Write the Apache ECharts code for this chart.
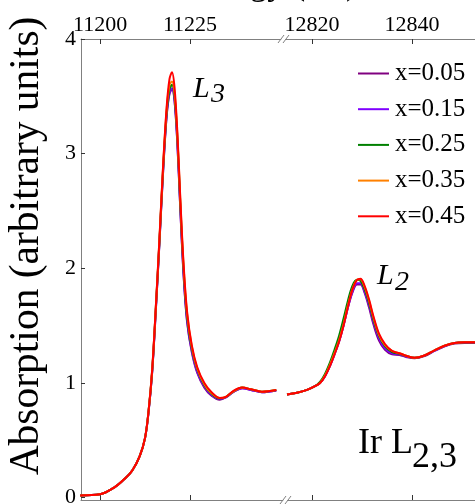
<!DOCTYPE html>
<html>
<head>
<meta charset="utf-8">
<script src="https://cdn.jsdelivr.net/npm/echarts@6/dist/echarts.min.js"></script>
<style>
html,body{margin:0;padding:0;background:#fff;}
#chart{width:475px;height:504px;}
</style>
</head>
<body>
<div id="chart"></div>
<script>
// ---- data ----
const seriesNames = ['x=0.05', 'x=0.15', 'x=0.25', 'x=0.35', 'x=0.45'];
const seriesColors = ['#800080', '#7f00ff', '#008000', '#ff8000', '#ff0000'];

// L3 edge energies (eV)
const energyL3 = [11194.5, 11200, 11204, 11207, 11209, 11211, 11212.5, 11213.5, 11214.5, 11215.5,
  11216.5, 11217.5, 11218.5, 11219.3, 11220, 11220.7, 11221.5, 11222.3, 11223.2, 11224.2,
  11225.5, 11227, 11229, 11231, 11233.3, 11235, 11237, 11239.5, 11242, 11245, 11249];
const l3_x005 = [0.02, 0.03, 0.09, 0.17, 0.24, 0.36, 0.52, 0.75, 1.10, 1.63,
  2.21, 2.82, 3.32, 3.52, 3.56, 3.46, 3.08, 2.52, 1.95, 1.53,
  1.27, 1.09, 0.96, 0.89, 0.855, 0.875, 0.92, 0.955, 0.94, 0.92, 0.935];
const l3_x015 = [0.02, 0.03, 0.09, 0.17, 0.24, 0.36, 0.52, 0.75, 1.10, 1.63,
  2.22, 2.83, 3.33, 3.53, 3.57, 3.47, 3.09, 2.53, 1.96, 1.54,
  1.28, 1.10, 0.97, 0.895, 0.86, 0.875, 0.92, 0.955, 0.94, 0.92, 0.935];
const l3_x025 = [0.02, 0.03, 0.09, 0.17, 0.24, 0.36, 0.52, 0.76, 1.11, 1.65,
  2.23, 2.85, 3.35, 3.56, 3.60, 3.50, 3.13, 2.57, 2.00, 1.57,
  1.30, 1.12, 0.98, 0.905, 0.865, 0.88, 0.925, 0.96, 0.945, 0.925, 0.94];
const l3_x035 = [0.02, 0.03, 0.09, 0.17, 0.24, 0.36, 0.52, 0.76, 1.12, 1.66,
  2.25, 2.87, 3.38, 3.60, 3.63, 3.53, 3.15, 2.60, 2.03, 1.60,
  1.32, 1.13, 0.99, 0.91, 0.87, 0.88, 0.925, 0.96, 0.945, 0.925, 0.94];
const l3_x045 = [0.02, 0.03, 0.09, 0.17, 0.24, 0.36, 0.52, 0.76, 1.12, 1.66,
  2.25, 2.88, 3.40, 3.65, 3.71, 3.58, 3.18, 2.62, 2.05, 1.62,
  1.33, 1.14, 1.00, 0.92, 0.87, 0.88, 0.93, 0.96, 0.945, 0.925, 0.94];

// L2 edge energies (eV)
const energyL2 = [12815, 12817, 12819, 12820.5, 12821.6, 12822.6, 12823.6, 12824.5, 12825.4, 12826.3,
  12827.2, 12828.1, 12829, 12829.7, 12830.5, 12831.4, 12832.3, 12833.4, 12834.6, 12836,
  12837.5, 12839, 12840.5, 12842.5, 12844.5, 12846.5, 12848.5, 12850.5, 12852.6];
const l2_x005 = [0.90, 0.915, 0.94, 0.97, 1.00, 1.06, 1.15, 1.25, 1.36, 1.50,
  1.66, 1.79, 1.86, 1.86, 1.79, 1.66, 1.51, 1.37, 1.29, 1.25,
  1.245, 1.225, 1.215, 1.235, 1.28, 1.32, 1.345, 1.35, 1.35];
const l2_x015 = [0.90, 0.915, 0.94, 0.97, 1.00, 1.06, 1.15, 1.25, 1.36, 1.50,
  1.66, 1.80, 1.87, 1.87, 1.80, 1.68, 1.53, 1.39, 1.30, 1.26,
  1.25, 1.23, 1.22, 1.24, 1.28, 1.32, 1.35, 1.355, 1.355];
const l2_x025 = [0.90, 0.915, 0.94, 0.97, 1.01, 1.08, 1.18, 1.29, 1.41, 1.56,
  1.72, 1.85, 1.90, 1.89, 1.82, 1.70, 1.55, 1.41, 1.32, 1.27,
  1.255, 1.235, 1.22, 1.24, 1.285, 1.325, 1.35, 1.355, 1.355];
const l2_x035 = [0.90, 0.915, 0.94, 0.97, 1.00, 1.065, 1.16, 1.26, 1.37, 1.51,
  1.68, 1.82, 1.90, 1.905, 1.84, 1.72, 1.57, 1.42, 1.33, 1.28,
  1.26, 1.235, 1.22, 1.24, 1.285, 1.325, 1.35, 1.355, 1.355];
const l2_x045 = [0.90, 0.915, 0.94, 0.97, 1.00, 1.06, 1.15, 1.25, 1.36, 1.50,
  1.67, 1.82, 1.90, 1.91, 1.85, 1.73, 1.58, 1.43, 1.34, 1.28,
  1.26, 1.235, 1.22, 1.24, 1.285, 1.325, 1.35, 1.355, 1.355];

const yTicks = [0, 1, 2, 3, 4];
const xTicksL3 = [11200, 11225];
const xTicksL2 = [12820, 12840];

const l3Values = [l3_x005, l3_x015, l3_x025, l3_x035, l3_x045];
const l2Values = [l2_x005, l2_x015, l2_x025, l2_x035, l2_x045];

// ---- chart ----
const FONT = '"Liberation Serif", "Times New Roman", serif';
const AXIS_GREY = '#808080';
const chart = echarts.init(document.getElementById('chart'), null, {renderer: 'canvas'});

function pairs(xs, ys) { return xs.map((x, i) => [x, ys[i]]); }
const plain = v => String(v);

const series = [];
seriesNames.forEach((name, k) => {
  series.push({
    name, type: 'line', xAxisIndex: 0, yAxisIndex: 0, smooth: 0.35, symbol: 'none',
    data: pairs(energyL3, l3Values[k]),
    lineStyle: {color: seriesColors[k], width: 2}, itemStyle: {color: seriesColors[k]}, z: 2 + k
  });
  series.push({
    name, type: 'line', xAxisIndex: 2, yAxisIndex: 1, smooth: 0.35, symbol: 'none',
    data: pairs(energyL2, l2Values[k]),
    lineStyle: {color: seriesColors[k], width: 2}, itemStyle: {color: seriesColors[k]}, z: 2 + k
  });
});

function xAxisDef(gridIndex, position, min, max, ticks, showLabels) {
  return {
    type: 'value', gridIndex, position, min, max,
    axisLine: {show: true, onZero: false, lineStyle: {color: AXIS_GREY, width: 1}},
    axisTick: {show: true, inside: true, length: 5, customValues: ticks, lineStyle: {color: '#333'}},
    axisLabel: {show: showLabels, customValues: ticks, formatter: plain, color: '#000', fontFamily: FONT, fontSize: 22, margin: 3},
    splitLine: {show: false}
  };
}

const option = {
  backgroundColor: '#fff',
  animation: false,
  grid: [
    {left: 81, top: 39, width: 205, height: 461, containLabel: false, outerBoundsMode: 'none'},
    {left: 286, top: 39, width: 189, height: 461, containLabel: false, outerBoundsMode: 'none'}
  ],
  xAxis: [
    xAxisDef(0, 'bottom', 11194.7, 11251.7, xTicksL3, false),
    xAxisDef(0, 'top', 11194.7, 11251.7, xTicksL3, true),
    xAxisDef(1, 'bottom', 12814.8, 12852.6, xTicksL2, false),
    xAxisDef(1, 'top', 12814.8, 12852.6, xTicksL2, true)
  ],
  yAxis: [
    {
      type: 'value', gridIndex: 0, min: -0.02, max: 4,
      axisLine: {show: true, lineStyle: {color: AXIS_GREY, width: 1}},
      axisTick: {show: true, inside: true, length: 4, customValues: yTicks, lineStyle: {color: '#333'}},
      axisLabel: {customValues: yTicks, formatter: plain, color: '#000', fontFamily: FONT, fontSize: 22, margin: 5},
      splitLine: {show: false}
    },
    {type: 'value', gridIndex: 1, min: -0.02, max: 4, show: false, splitLine: {show: false}}
  ],
  legend: {
    data: seriesNames,
    orient: 'vertical', left: 358, top: 61, padding: 0,
    itemWidth: 31, itemHeight: 14, itemGap: 10.7,
    icon: 'path://M0,6 L31,6 L31,8 L0,8 Z',
    textStyle: {fontFamily: FONT, fontSize: 25, color: '#000', lineHeight: 24, padding: [0, 0, 0, 1]}
  },
  graphic: [
    {type: 'text', style: {text: 'Energy (eV)', x: 271, y: -15, align: 'center', verticalAlign: 'middle', font: '35px ' + FONT, fill: '#000'}, silent: true},
    {type: 'text', style: {text: 'Absorption (arbitrary units)', x: 0, y: 0, align: 'center', verticalAlign: 'middle', font: '41.5px ' + FONT, fill: '#000'}, x: 27, y: 246, rotation: Math.PI / 2, silent: true},
    {type: 'text', style: {text: 'L', x: 193, y: 89.5, verticalAlign: 'middle', font: 'italic 30px ' + FONT, fill: '#000'}, silent: true},
    {type: 'text', style: {text: '3', x: 211, y: 94.5, verticalAlign: 'middle', font: 'italic 28px ' + FONT, fill: '#000'}, silent: true},
    {type: 'text', style: {text: 'L', x: 377, y: 276.5, verticalAlign: 'middle', font: 'italic 30px ' + FONT, fill: '#000'}, silent: true},
    {type: 'text', style: {text: '2', x: 395, y: 283, verticalAlign: 'middle', font: 'italic 28px ' + FONT, fill: '#000'}, silent: true},
    {type: 'text', style: {text: 'Ir L', x: 358, y: 444, verticalAlign: 'middle', font: '36px ' + FONT, fill: '#000'}, silent: true},
    {type: 'text', style: {text: '2,3', x: 412, y: 458, verticalAlign: 'middle', font: '36px ' + FONT, fill: '#000'}, silent: true},
    // axis break marks (top)
    {type: 'polygon', shape: {points: [[279, 43], [284, 35], [288, 35], [283, 43]]}, style: {fill: '#fff'}, z: 10, silent: true},
    {type: 'line', shape: {x1: 278, y1: 43, x2: 284, y2: 35}, style: {stroke: AXIS_GREY, lineWidth: 1}, z: 11, silent: true},
    {type: 'line', shape: {x1: 283, y1: 43, x2: 289, y2: 35}, style: {stroke: AXIS_GREY, lineWidth: 1}, z: 11, silent: true},
    // axis break marks (bottom)
    {type: 'polygon', shape: {points: [[281, 504], [286, 496], [290, 496], [285, 504]]}, style: {fill: '#fff'}, z: 10, silent: true},
    {type: 'line', shape: {x1: 280, y1: 504, x2: 286, y2: 496}, style: {stroke: AXIS_GREY, lineWidth: 1}, z: 11, silent: true},
    {type: 'line', shape: {x1: 285, y1: 504, x2: 291, y2: 496}, style: {stroke: AXIS_GREY, lineWidth: 1}, z: 11, silent: true}
  ],
  series
};
chart.setOption(option);
</script>
</body>
</html>
